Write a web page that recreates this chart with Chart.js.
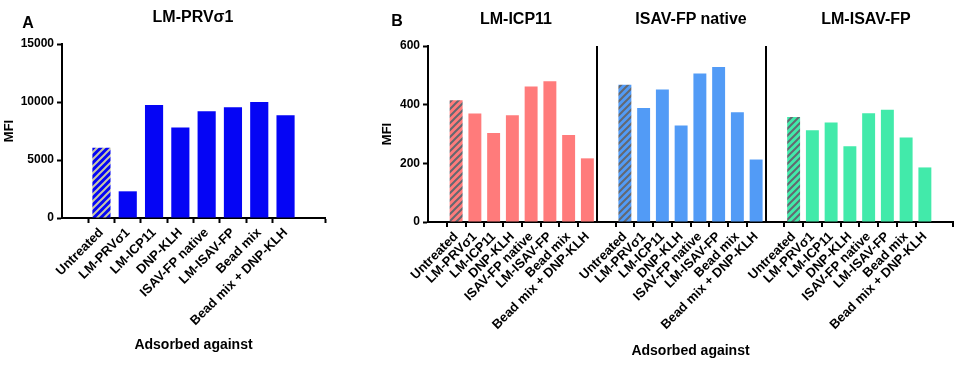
<!DOCTYPE html>
<html>
<head>
<meta charset="utf-8">
<script src="https://cdn.jsdelivr.net/npm/chart.js"></script>
<style>
    body { margin: 0; background: #fff; font-family: "Liberation Sans", Arial, sans-serif; }
    .box { position: absolute; top: 0; height: 367px; }
    .txt { position: absolute; transform: translate(-50%, -50%); font-weight: bold; font-size: 16px; color: #000; white-space: nowrap; }
</style>
</head>
<body>
<div class="box" style="left:0;width:340px"><canvas id="panelA"></canvas></div>
<div class="box" style="left:370px;width:587px"><canvas id="panelB"></canvas></div>
<div class="txt" style="left:28px;top:23px">A</div>
<div class="txt" style="left:193px;top:17px">LM-PRVσ1</div>
<div class="txt" style="left:397px;top:21px">B</div>
<div class="txt" style="left:516px;top:19px">LM-ICP11</div>
<div class="txt" style="left:691px;top:19px">ISAV-FP native</div>
<div class="txt" style="left:866px;top:19px">LM-ISAV-FP</div>
<script>
const kategorien = ["Untreated", "LM-PRVσ1", "LM-ICP11", "DNP-KLH", "ISAV-FP native", "LM-ISAV-FP", "Bead mix", "Bead mix + DNP-KLH"];
const mfiPrv = [6050, 2300, 9750, 7800, 9200, 9550, 10000, 8850];
const mfiIcp11 = [415, 370, 303, 364, 462, 480, 297, 217];
const mfiIsavNative = [468, 389, 452, 329, 506, 528, 374, 213];
const mfiLmIsav = [358, 313, 339, 258, 371, 383, 288, 186];
const ticksA = [0, 5000, 10000, 15000];
const ticksB = [0, 200, 400, 600];

const schrift = "'Liberation Sans', Arial, sans-serif";

// schraffur fuer "Untreated"
function schraffur(grund, strich) {
    const c = document.createElement("canvas");
    const s = 7;
    c.width = s;
    c.height = s;
    const x = c.getContext("2d");
    x.fillStyle = grund;
    x.fillRect(0, 0, s, s);
    x.strokeStyle = strich;
    x.lineWidth = 2;
    x.beginPath();
    x.moveTo(0, s); x.lineTo(s, 0);
    x.moveTo(-s / 2, s / 2); x.lineTo(s / 2, -s / 2);
    x.moveTo(s / 2, s * 1.5); x.lineTo(s * 1.5, s / 2);
    x.stroke();
    return x.createPattern(c, "repeat");
}

function leerTick(ctx) {
    return ctx.tick && ctx.tick.label === "" ? "rgba(0,0,0,0)" : "#000";
}

function yAchse(ticks, breite, titelAbstand) {
    return {
        min: 0,
        max: ticks[ticks.length - 1],
        ticks: {
            stepSize: ticks[1],
            callback: (v) => String(v),
            color: "#000",
            padding: 3,
            font: { family: schrift, size: 12, weight: "bold" },
        },
        grid: { drawOnChartArea: false, tickLength: 5, tickWidth: 2, tickColor: "#000" },
        border: { color: "#000", width: 2 },
        title: { display: true, text: "MFI", color: "#000", padding: { top: titelAbstand, bottom: 0 }, font: { family: schrift, size: 13, weight: "bold" } },
        afterFit(scale) {
            scale.width = breite;
            scale.paddingTop = 0;
            scale.paddingBottom = 0;
        },
    };
}

function xAchse(hoehe, titelAbstand, grid) {
    return {
        grid: grid,
        border: { color: "#000", width: 2 },
        ticks: { autoSkip: false, minRotation: 45, maxRotation: 45, padding: 2, color: "#000", font: { family: schrift, size: 13, weight: "bold" } },
        title: { display: true, text: "Adsorbed against", color: "#000", padding: { top: 0, bottom: titelAbstand }, font: { family: schrift, size: 14, weight: "bold" } },
        afterFit(scale) {
            scale.height = hoehe;
            scale.paddingLeft = 0;
            scale.paddingRight = 0;
        },
    };
}

// Panel A
const labelsA = [""].concat(kategorien, [""]);
const musterA = schraffur("#0505f5", "#c8c8a6");

new Chart(document.getElementById("panelA"), {
    type: "bar",
    data: {
        labels: labelsA,
        datasets: [
            {
                label: "LM-PRVσ1",
                data: [null].concat(mfiPrv, [null]),
                backgroundColor: (ctx) => (ctx.index === 1 ? musterA : "#0505f5"),
                categoryPercentage: 1,
                barPercentage: 0.69,
            },
        ],
    },
    options: {
        responsive: true,
        maintainAspectRatio: false,
        animation: false,
        layout: { padding: { top: 44, right: 15, left: 0, bottom: 0 } },
        plugins: { legend: { display: false }, tooltip: { enabled: false } },
        scales: {
            x: xAchse(149, 13, { drawOnChartArea: false, tickLength: 5, tickWidth: 2, tickColor: leerTick }),
            y: yAchse(ticksA, 62, 2),
        },
    },
});

// Panel B
const labelsB = [""].concat(kategorien, [""], kategorien, [""], kategorien, [""]);

function spalte(werte, gruppe) {
    const out = labelsB.map(() => null);
    werte.forEach((v, i) => {
        out[1 + gruppe * 9 + i] = v;
    });
    return out;
}

const gruppenB = [
    { name: "LM-ICP11", werte: mfiIcp11, farbe: "#ff7b7b" },
    { name: "ISAV-FP native", werte: mfiIsavNative, farbe: "#529bf6" },
    { name: "LM-ISAV-FP", werte: mfiLmIsav, farbe: "#42eaaa" },
];

new Chart(document.getElementById("panelB"), {
    type: "bar",
    data: {
        labels: labelsB,
        datasets: gruppenB.map((g, n) => {
            const muster = schraffur(g.farbe, "#646870");
            return {
                label: g.name,
                data: spalte(g.werte, n),
                backgroundColor: (ctx) => (ctx.index === 1 + n * 9 ? muster : g.farbe),
                categoryPercentage: 1,
                barPercentage: 0.69,
                grouped: false,
            };
        }),
    },
    options: {
        responsive: true,
        maintainAspectRatio: false,
        animation: false,
        layout: { padding: { top: 46, right: 4, left: 0, bottom: 0 } },
        plugins: { legend: { display: false }, tooltip: { enabled: false } },
        scales: {
            x: xAchse(145, 7, {
                drawOnChartArea: true,
                color: (ctx) => (ctx.index === 9 || ctx.index === 18 ? "#000" : "rgba(0,0,0,0)"),
                lineWidth: 2,
                tickLength: 5,
                tickWidth: 2,
                tickColor: leerTick,
            }),
            y: yAchse(ticksB, 58, 10),
        },
    },
});
</script>
</body>
</html>
